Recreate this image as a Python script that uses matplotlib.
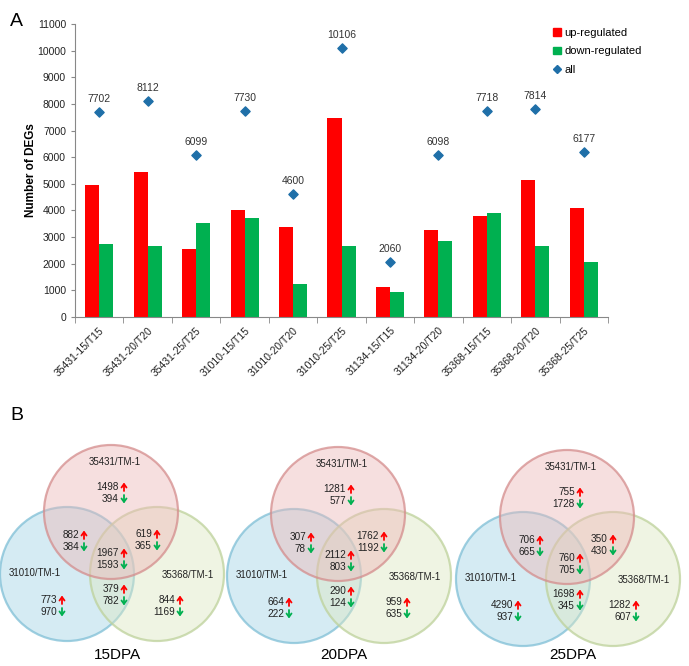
import numpy as np
import matplotlib.pyplot as plt
from matplotlib.patches import Circle
from matplotlib.lines import Line2D
from matplotlib.patches import Patch
from matplotlib.colors import to_rgba

plt.rcParams['font.family'] = ['Liberation Sans', 'DejaVu Sans']

# ---- panel A data ----
samples = ['35431-15/T15', '35431-20/T20', '35431-25/T25', '31010-15/T15', '31010-20/T20',
           '31010-25/T25', '31134-15/T15', '31134-20/T20', '35368-15/T15', '35368-20/T20',
           '35368-25/T25']
up = [4960, 5460, 2560, 4010, 3370, 7456, 1140, 3250, 3810, 5134, 4097]
down = [2742, 2652, 3539, 3720, 1230, 2650, 920, 2848, 3908, 2680, 2080]
total = [7702, 8112, 6099, 7730, 4600, 10106, 2060, 6098, 7718, 7814, 6177]

# ---- panel B data: (up, down) per region ----
regions = ['top', 'top_left', 'top_right', 'center', 'left', 'bottom', 'right']
venn_titles = ['15DPA', '20DPA', '25DPA']
venn_up = [[1498, 882, 619, 1967, 773, 379, 844],
           [1281, 307, 1762, 2112, 664, 290, 959],
           [755, 706, 350, 760, 4290, 1698, 1282]]
venn_down = [[394, 384, 365, 1593, 970, 782, 1169],
             [577, 78, 1192, 803, 222, 124, 635],
             [1728, 665, 430, 705, 937, 345, 607]]
set_names = ['35431/TM-1', '31010/TM-1', '35368/TM-1']

fig = plt.figure(figsize=(6.89, 6.66), dpi=100)

# ---------------- panel A ----------------
ax = fig.add_axes([75 / 689, 1 - 317 / 666, 533 / 689, 293 / 666])
x = np.arange(len(samples))
w = 0.29
ax.bar(x - w / 2, up, w, color='#FF0000', label='up-regulated')
ax.bar(x + w / 2, down, w, color='#00B050', label='down-regulated')
ax.scatter(x, total, marker='D', s=22, color='#1F6FA8', zorder=3, label='all')
for xi, t in zip(x, total):
    ax.text(xi, t + 300, str(t), ha='center', va='bottom', fontsize=7.5, color='#333333')

ax.set_xlim(-0.5, len(samples) - 0.5)
ax.set_ylim(0, 11000)
ax.set_yticks(np.arange(0, 11001, 1000))
ax.tick_params(axis='y', labelsize=7.5, length=3, color='#888888', labelcolor='#222222')
ax.set_xticks(x)
ax.set_xticklabels(samples, rotation=45, ha='right', rotation_mode='anchor', fontsize=7.5,
                   color='#222222')
ax.set_xticks(np.arange(-0.5, len(samples)), minor=True)
ax.tick_params(axis='x', which='major', length=0, pad=6)
ax.tick_params(axis='x', which='minor', length=4, color='#888888')
for s in ['top', 'right']:
    ax.spines[s].set_visible(False)
for s in ['left', 'bottom']:
    ax.spines[s].set_color('#888888')
ax.set_ylabel('Number of DEGs', fontsize=8.5, fontweight='bold', labelpad=0)

handles = [Patch(color='#FF0000', label='up-regulated'),
           Patch(color='#00B050', label='down-regulated'),
           Line2D([], [], marker='D', color='#1F6FA8', linestyle='none', markersize=4, label='all')]
fig.legend(handles=handles, loc='upper left', bbox_to_anchor=(543 / 689, 1 - 18 / 666),
           frameon=False, fontsize=8, handlelength=0.7, handleheight=0.7, handletextpad=0.3,
           labelspacing=0.75)

fig.text(10 / 689, 1 - 22 / 666, 'A', fontsize=14, va='center')
fig.text(10 / 689, 1 - 415 / 666, 'B', fontsize=14, va='center')

# ---------------- panel B ----------------
vx = fig.add_axes([0, 0, 1, 1])
vx.set_xlim(0, 689)
vx.set_ylim(666, 0)
vx.axis('off')

top_centers = [(111, 512), (338, 514), (567, 517)]
r = 67
# drawing order: left, right, top
circle_order = [1, 2, 0]
circle_off = [(0, 0), (-44, 62), (46, 62)]
face = ['#EDB8B8', '#A3D3E5', '#DDE8C3']
edge = ['#D48C8C', '#7FBFD6', '#BDD19A']
# region text anchors: arrow x offset, up row y offset
reg_pos = {'top': (12, -25), 'top_left': (-28, 23), 'top_right': (45, 22),
           'center': (12, 41), 'left': (-50, 88), 'bottom': (12, 77), 'right': (68, 88)}
name_pos = [(4, -50), (-76, 61), (77, 63)]
arrow = dict(arrowstyle='->,head_width=0.18,head_length=0.25', lw=1.3, shrinkA=0, shrinkB=0)

for k, (cx, cy) in enumerate(top_centers):
    for j in circle_order:
        ox, oy = circle_off[j]
        vx.add_patch(Circle((cx + ox, cy + oy), r, facecolor=to_rgba(face[j], 0.45),
                            edgecolor=to_rgba(edge[j], 0.75), linewidth=1.6))
    for j in range(3):
        nx, ny = name_pos[j]
        vx.text(cx + nx, cy + ny, set_names[j], ha='center', va='center', fontsize=7,
                color='#222222')
    for i, reg in enumerate(regions):
        ax_, ay_ = reg_pos[reg]
        vx.text(cx + ax_ - 4, cy + ay_, str(venn_up[k][i]), ha='right', va='center',
                fontsize=7.2, color='#222222')
        vx.annotate('', xy=(cx + ax_ + 1, cy + ay_ - 4.5), xytext=(cx + ax_ + 1, cy + ay_ + 4),
                    arrowprops=dict(arrow, color='#FF0000'))
        vx.text(cx + ax_ - 4, cy + ay_ + 12, str(venn_down[k][i]), ha='right', va='center',
                fontsize=7.2, color='#222222')
        vx.annotate('', xy=(cx + ax_ + 1, cy + ay_ + 16.5), xytext=(cx + ax_ + 1, cy + ay_ + 8),
                    arrowprops=dict(arrow, color='#00B050'))
    vx.text(cx + 6, 655, venn_titles[k], ha='center', va='center', fontsize=11)

fig.savefig('out.png', dpi=100)
